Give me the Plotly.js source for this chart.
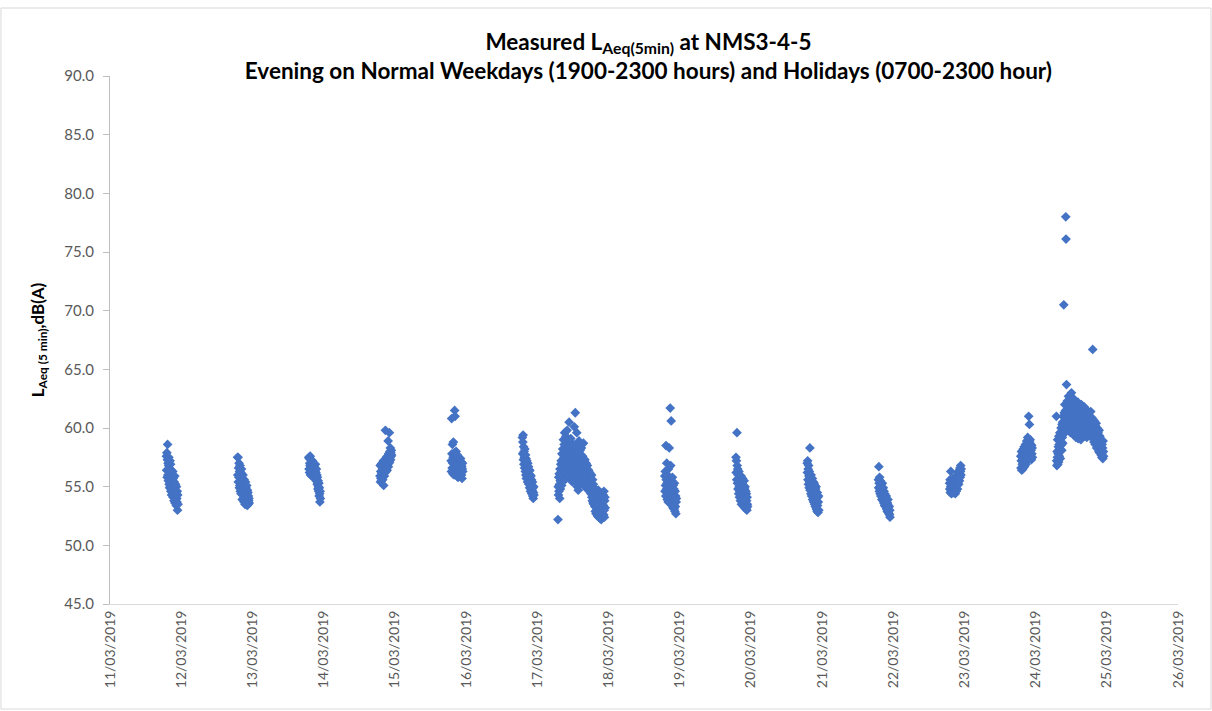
<!DOCTYPE html>
<html>
<head>
<meta charset="utf-8">
<script src="https://cdn.plot.ly/plotly-3.0.1.min.js"></script>
<style>html,body{margin:0;padding:0;background:#fff;}#chart{width:1212px;height:711px;}</style>
</head>
<body>
<div id="chart"></div>
<script>
// Evening series (1900-2300, 5-min LAeq), dB(A)
const d11 = [57.6,56.4,57.9,55.8,57.3,58.6,56.0,57.0,55.5,56.8,57.5,55.2,56.5,54.9,56.2,57.2,55.0,56.9,54.6,55.9,56.4,54.3,55.6,56.0,54.8,55.3,56.3,54.1,55.7,54.5,55.1,53.8,55.4,54.2,55.9,53.6,54.7,55.2,53.9,54.4,53.4,55.0,54.0,53.7,54.6,53.0,54.3,53.5];
const d12 = [57.5,56.0,57.5,55.4,56.6,55.8,57.0,54.9,56.3,55.1,56.8,54.6,55.9,56.2,54.4,55.5,56.5,54.7,55.2,53.9,55.7,54.3,56.0,54.0,55.3,54.8,53.7,55.6,54.2,55.0,53.5,54.6,55.4,53.8,54.9,54.1,53.6,55.1,54.4,53.4,54.7,53.9,54.5,53.5,54.2,53.8,54.0,53.6];
const d13 = [57.5,56.5,57.4,56.2,57.0,56.8,57.6,56.0,56.9,57.3,56.3,56.7,57.1,55.9,56.6,57.2,56.1,56.9,56.4,57.0,55.8,56.5,56.8,56.0,56.6,55.7,56.3,56.9,55.9,56.2,55.5,56.5,55.6,56.0,55.2,55.8,55.4,54.8,55.5,55.0,54.6,55.3,54.2,54.9,54.4,53.7,54.6,54.0];
const d14 = [55.9,56.8,55.4,56.3,55.7,56.9,55.5,56.1,57.0,55.8,56.5,55.6,56.7,56.0,57.2,55.1,56.4,56.9,55.9,56.6,57.3,56.2,59.8,56.8,57.1,56.3,57.5,56.6,57.0,56.4,57.6,56.9,57.2,58.9,56.7,57.8,57.0,57.4,59.6,57.1,58.0,57.5,58.3,57.3,57.9,57.6,58.1,57.7];
const d15 = [57.2,56.3,60.8,57.8,56.6,58.6,57.0,56.1,57.5,58.8,56.4,57.3,56.0,57.9,61.5,56.7,61.0,57.4,56.2,57.1,58.0,56.5,57.6,55.9,56.9,57.7,56.3,57.2,55.8,56.8,57.5,56.1,57.0,56.6,57.3,55.9,56.9,56.4,57.4,56.2,56.8,57.1,56.0,56.7,55.7,56.5,57.0,56.3];
const d16 = [59.2,57.8,58.8,59.4,57.3,58.4,56.9,58.0,57.5,56.6,58.2,57.0,56.3,57.7,56.0,57.4,55.7,56.8,57.2,55.9,56.5,55.4,57.0,56.1,55.6,56.7,55.2,56.3,55.8,54.9,56.4,55.5,56.0,54.6,55.3,55.9,54.8,55.6,54.4,55.1,54.7,55.4,54.2,54.9,54.0,54.5,55.0,54.3];
const d18 = [55.9,54.6,56.3,55.1,54.2,58.5,55.6,54.8,57.0,55.3,53.9,56.0,54.5,55.4,53.7,56.5,54.9,55.2,58.3,54.3,55.7,53.6,61.7,54.7,56.8,55.0,60.6,53.8,55.5,54.1,53.4,55.8,54.4,53.2,55.1,54.0,53.5,54.8,53.1,55.3,53.9,52.9,54.6,53.3,54.2,52.7,53.7,54.0];
const d19 = [57.5,56.2,57.2,55.6,59.6,56.8,55.3,56.5,54.8,56.0,55.5,54.4,56.3,55.0,54.1,55.8,54.6,55.2,53.8,55.6,54.3,55.9,53.5,54.9,55.4,53.9,54.7,55.7,53.6,54.5,55.1,53.3,54.2,55.5,53.7,54.8,53.2,55.0,54.0,53.4,54.6,53.1,54.4,53.8,53.0,54.1,53.5,53.3];
const d20 = [57.0,56.2,57.2,55.6,56.5,55.2,56.8,55.9,54.9,56.3,55.4,58.3,54.7,55.8,55.1,54.4,56.0,55.5,54.2,55.2,54.8,55.7,53.9,55.0,54.5,55.4,53.7,54.9,55.3,54.0,53.5,55.1,54.6,53.3,54.8,53.8,55.0,53.1,54.3,53.6,52.9,54.5,53.4,54.1,52.8,53.7,54.2,53.0];
const d21 = [55.6,54.9,56.7,55.3,54.6,55.8,55.0,54.4,55.5,54.8,54.2,55.2,54.6,55.0,53.9,54.7,55.3,54.1,54.5,53.8,54.9,54.3,53.6,54.6,54.0,53.4,54.4,53.7,54.1,53.3,53.9,53.5,54.2,53.1,53.8,53.4,52.9,53.6,53.2,53.9,52.8,53.4,53.0,52.7,53.3,52.6,53.0,52.4];
const d22 = [55.3,54.8,55.6,54.5,55.0,56.3,54.7,55.2,54.4,55.5,54.9,55.1,54.6,55.4,54.8,55.7,54.5,55.0,55.3,54.7,55.6,54.9,55.2,54.4,55.5,55.0,55.8,54.6,55.3,55.9,55.1,55.6,54.8,56.0,55.4,55.7,56.2,55.2,55.9,56.4,55.5,56.1,56.6,55.8,56.3,56.8,56.0,56.5];
const d23 = [57.6,56.6,57.2,58.0,56.4,57.5,56.9,57.9,56.5,57.3,58.2,56.8,57.7,57.0,58.4,56.7,57.4,58.1,57.1,58.6,57.6,56.9,58.3,57.8,58.9,57.2,58.5,57.5,59.2,58.0,57.4,58.7,61.0,57.9,58.2,60.3,58.8,57.6,59.0,58.4,57.7,58.6,58.1,57.3,58.5,57.8,58.3,57.5];
// Holiday series (0700-2300, 5-min LAeq), dB(A)
const h17 = [
52.2,55.0,54.3,55.8,54.6,56.1,55.2,54.0,56.5,55.5,54.8,56.9,
55.9,57.2,56.3,55.1,57.8,56.6,55.7,58.2,56.0,57.0,59.0,56.4,
57.5,58.6,56.8,59.6,57.3,55.6,58.0,56.2,59.3,57.6,56.9,58.4,
57.1,59.8,56.5,58.8,57.9,55.9,58.3,57.4,56.7,60.5,58.1,57.0,
56.3,58.5,57.7,55.8,59.1,57.2,56.6,58.0,56.1,57.5,55.4,56.9,
57.8,56.4,55.7,58.6,57.0,56.2,60.1,57.4,55.9,56.8,61.3,57.6,
56.5,58.1,55.3,57.3,59.6,56.7,55.0,57.9,56.0,58.4,54.7,57.1,
56.3,58.9,55.6,57.5,56.9,55.2,58.1,56.6,57.2,55.8,56.4,58.3,
55.9,57.0,56.2,55.4,57.6,56.8,55.1,58.7,56.0,55.6,57.3,56.5,
55.7,57.3,56.1,55.0,56.6,55.4,57.0,55.8,54.9,56.3,55.5,56.8,
55.2,56.0,54.7,55.6,56.4,54.9,55.8,55.1,56.2,54.6,55.5,54.8,
55.9,54.4,55.3,54.7,56.0,54.1,55.0,53.8,55.6,54.5,53.6,55.2,
54.3,53.5,54.9,53.9,54.7,53.3,54.2,52.9,54.6,53.7,52.7,54.0,
53.4,52.8,54.4,53.1,52.5,53.8,52.9,54.7,53.2,52.4,53.6,52.6,
53.0,54.2,52.3,53.5,52.8,54.5,53.3,52.2,53.9,52.7,54.0,53.1,
52.9,53.7,52.5,54.3,53.4,52.6,54.6,53.0,52.4,53.8,54.1,53.2];
const h24 = [
61.0,57.2,56.8,58.0,57.5,59.0,56.9,57.8,58.4,57.1,59.3,58.6,
57.6,58.9,59.6,58.2,57.4,59.1,58.5,60.0,58.8,59.4,58.1,60.3,
59.2,60.5,58.7,61.0,59.8,60.2,70.5,59.5,61.3,60.0,62.0,59.7,
60.8,61.5,78.0,76.1,60.4,63.7,61.2,60.1,62.3,60.7,61.8,59.9,
61.0,62.7,60.3,61.6,59.8,60.9,62.1,60.5,61.3,59.6,60.8,61.9,
60.2,63.0,61.4,59.7,60.6,62.4,60.0,61.1,59.5,60.7,62.5,60.3,
61.2,59.4,60.8,61.7,59.9,60.4,62.0,59.2,60.6,61.3,59.8,60.1,
61.5,59.6,60.3,62.2,59.1,60.9,61.0,59.5,60.2,61.6,59.3,60.7,
59.9,61.2,60.4,59.0,60.8,62.0,59.6,60.1,61.4,59.4,60.6,59.8,
60.9,59.3,61.1,60.0,59.7,61.8,60.4,59.5,60.7,61.3,59.9,60.2,
59.6,61.0,60.3,59.2,60.8,61.5,59.8,60.1,59.4,60.6,61.2,59.7,
60.4,59.5,61.0,60.0,59.3,60.7,59.8,61.4,60.2,59.6,60.9,59.9,
60.3,59.4,60.8,66.7,59.7,60.5,59.1,60.1,58.8,59.9,60.6,59.3,
59.8,58.6,60.2,59.5,58.9,60.4,59.0,58.3,59.7,60.0,58.7,59.4,
58.9,59.6,58.2,59.2,58.0,59.8,58.5,57.9,59.3,58.7,58.1,59.0,
58.4,57.7,58.8,58.0,57.5,58.6,57.9,58.3,57.4,58.9,58.0,57.6];

const periods = [
  ['2019-03-11', 19, d11], ['2019-03-12', 19, d12], ['2019-03-13', 19, d13],
  ['2019-03-14', 19, d14], ['2019-03-15', 19, d15], ['2019-03-16', 19, d16],
  ['2019-03-17', 7, h17],  ['2019-03-18', 19, d18], ['2019-03-19', 19, d19],
  ['2019-03-20', 19, d20], ['2019-03-21', 19, d21], ['2019-03-22', 19, d22],
  ['2019-03-23', 19, d23], ['2019-03-24', 7, h24]
];

const xs = [], ys = [];
const pad = n => (n < 10 ? '0' : '') + n;
periods.forEach(([day, startHour, vals]) => {
  vals.forEach((v, i) => {
    const mins = startHour * 60 + i * 5;
    xs.push(day + ' ' + pad(Math.floor(mins / 60)) + ':' + pad(mins % 60));
    ys.push(v);
  });
});

const font = "Lato, 'Open Sans', 'Liberation Sans', sans-serif";
const trace = {
  type: 'scatter', mode: 'markers', x: xs, y: ys,
  marker: {symbol: 'diamond', size: 7.5, color: '#4472C4', line: {width: 0}},
  hoverinfo: 'x+y'
};
const layout = {
  width: 1212, height: 711,
  margin: {l: 110, r: 34, t: 76, b: 107},
  paper_bgcolor: '#ffffff', plot_bgcolor: '#ffffff',
  showlegend: false,
  font: {family: font, color: '#595959', size: 14},
  title: {
    text: '<b>Measured L<sub>Aeq(5min)</sub> at NMS3-4-5<br>Evening on Normal Weekdays (1900-2300 hours) and Holidays (0700-2300 hour)</b>',
    font: {family: font, size: 22.5, color: '#000000'},
    x: 0.535, xanchor: 'center', y: 0.93, yanchor: 'top'
  },
  xaxis: {
    type: 'date', range: ['2019-03-11', '2019-03-26'],
    tick0: '2019-03-11', dtick: 86400000, tickformat: '%d/%m/%Y',
    tickangle: -90, showgrid: false, zeroline: false,
    showline: true, linecolor: '#d9d9d9', linewidth: 1,
    ticks: '', tickfont: {family: font, size: 14, color: '#595959'}
  },
  yaxis: {
    range: [45, 90], dtick: 5, tick0: 45, tickformat: '.1f',
    showgrid: false, zeroline: false,
    showline: true, linecolor: '#bfbfbf', linewidth: 1,
    ticks: 'outside', ticklen: 6, tickcolor: '#bfbfbf', ticklabelstandoff: 6,
    tickfont: {family: font, size: 15, color: '#595959'},
    title: {text: '<b>L<sub>Aeq (5 min)</sub>,dB(A)</b>', font: {family: font, size: 17, color: '#000000'}, standoff: 15}
  },
  shapes: [{type: 'rect', xref: 'paper', yref: 'paper', x0: -0.1021, x1: 1.0309, y0: -0.1989, y1: 1.1288,
    line: {color: '#d9d9d9', width: 1}, fillcolor: 'rgba(0,0,0,0)'}]
};
Plotly.newPlot('chart', [trace], layout, {displayModeBar: false, staticPlot: true});
</script>
</body>
</html>
